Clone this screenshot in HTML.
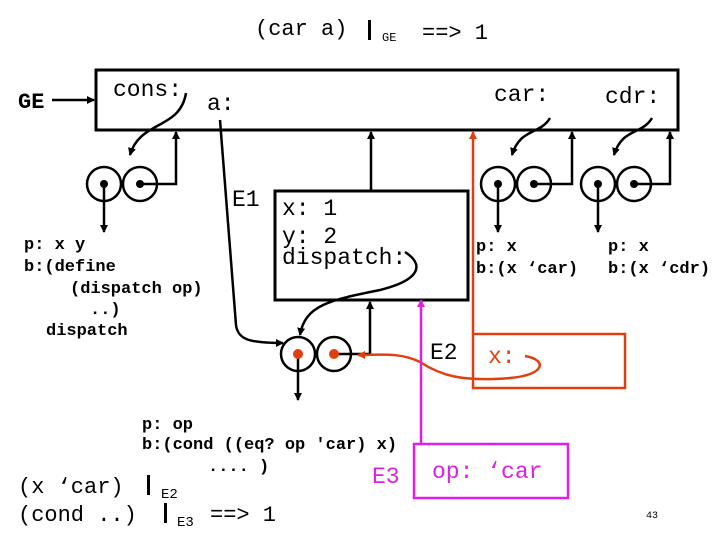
<!DOCTYPE html>
<html><head><style>body{margin:0;background:#fff}svg{display:block}text{font-family:"Liberation Mono",monospace}</style></head><body>
<svg width="720" height="540" viewBox="0 0 720 540" xmlns="http://www.w3.org/2000/svg">
<defs>
<marker id="a" markerWidth="8" markerHeight="8" refX="7" refY="4" orient="auto" markerUnits="userSpaceOnUse"><path d="M0,0 L8,4 L0,8z" fill="#000"/></marker>
<marker id="r" markerWidth="8" markerHeight="8" refX="7" refY="4" orient="auto" markerUnits="userSpaceOnUse"><path d="M0,0 L8,4 L0,8z" fill="#e04010"/></marker>
<marker id="m" markerWidth="8" markerHeight="8" refX="7" refY="4" orient="auto" markerUnits="userSpaceOnUse"><path d="M0,0 L8,4 L0,8z" fill="#e020e0"/></marker>
</defs>
<g fill="#000" font-size="23">
<text x="255" y="35" font-size="22">(car a)</text>
<text x="422" y="39" font-size="22">==&gt; 1</text>
<text x="382" y="41" font-size="12">GE</text>
<text x="18" y="108" font-weight="bold" font-size="22">GE</text>
<text x="113" y="96">cons:</text>
<text x="207" y="110">a:</text>
<text x="494" y="101">car:</text>
<text x="605" y="103">cdr:</text>
<text x="232" y="206">E1</text>
<text x="282" y="215">x: 1</text>
<text x="282" y="243">y: 2</text>
<text x="282" y="264">dispatch:</text>
<text x="430" y="359">E2</text>
</g>
<rect x="368" y="20" width="3" height="20" fill="#000"/>
<g fill="none" stroke="#000" stroke-width="3">
<rect x="96" y="70" width="582" height="60"/>
<rect x="275" y="191" width="193" height="109"/>
</g>
<g fill="none" stroke="#000" stroke-width="2.5">
<line x1="52" y1="100" x2="94" y2="100" marker-end="url(#a)"/>
<circle cx="104" cy="184" r="17"/><circle cx="140" cy="184" r="17"/>
<circle cx="498" cy="184" r="17"/><circle cx="534" cy="184" r="17"/>
<circle cx="598" cy="184" r="17"/><circle cx="634" cy="184" r="17"/>
<circle cx="298" cy="354" r="17"/><circle cx="334" cy="354" r="17"/>
<line x1="104" y1="184" x2="104" y2="232" marker-end="url(#a)"/>
<polyline points="140,184 176,184 176,132" marker-end="url(#a)"/>
<line x1="498" y1="184" x2="498" y2="232" marker-end="url(#a)"/>
<polyline points="534,184 572,184 572,132" marker-end="url(#a)"/>
<line x1="598" y1="184" x2="598" y2="232" marker-end="url(#a)"/>
<polyline points="634,184 670,184 670,132" marker-end="url(#a)"/>
<line x1="298" y1="354" x2="298" y2="400" marker-end="url(#a)"/>
<polyline points="334,354 370,354 370,302" marker-end="url(#a)"/>
<line x1="371" y1="190" x2="371" y2="132" marker-end="url(#a)"/>
<path d="M186,93 C180,130 140,120 130,155" marker-end="url(#a)"/>
<path d="M550,118 C540,135 520,128 512,155" marker-end="url(#a)"/>
<path d="M652,118 C642,135 622,128 614,155" marker-end="url(#a)"/>
<path d="M220,120 L236,325 C238,340 250,343 283,343" marker-end="url(#a)"/>
<path d="M405,252 C425,265 420,280 380,290 C330,300 305,305 300,335" marker-end="url(#a)"/>
</g>
<g fill="#000"><circle cx="104" cy="184" r="4"/><circle cx="140" cy="184" r="4"/><circle cx="498" cy="184" r="4"/><circle cx="534" cy="184" r="4"/><circle cx="598" cy="184" r="4"/><circle cx="634" cy="184" r="4"/></g>
<g fill="#e04010"><circle cx="298" cy="354" r="5"/><circle cx="334" cy="354" r="5"/></g>
<g fill="none" stroke="#e04010" stroke-width="2.5">
<line x1="473" y1="334" x2="473" y2="132" marker-end="url(#r)"/>
<rect x="473" y="334" width="152" height="54"/>
<path d="M525,356 C548,360 545,375 510,378 C460,382 440,375 420,362 C400,352 380,355 358,355" marker-end="url(#r)"/>
</g>
<text x="488" y="363" font-size="23" fill="#e04010">x:</text>
<g fill="none" stroke="#e020e0" stroke-width="2.5">
<line x1="421" y1="444" x2="421" y2="300" marker-end="url(#m)"/>
<rect x="414" y="444" width="154" height="54"/>
</g>
<text x="432" y="478" font-size="23" fill="#e020e0">op: ‘car</text>
<text x="372" y="483" font-size="23" fill="#e020e0">E3</text>
<g font-size="17" font-weight="bold" fill="#000">
<text x="24" y="249">p: x y</text>
<text x="24" y="271">b:(define</text>
<text x="70" y="293">(dispatch op)</text>
<text x="90" y="314">..)</text>
<text x="46" y="335">dispatch</text>
<text x="476" y="251">p: x</text>
<text x="476" y="273">b:(x ‘car)</text>
<text x="608" y="251">p: x</text>
<text x="608" y="273">b:(x ‘cdr)</text>
<text x="142" y="429">p: op</text>
<text x="142" y="449">b:(cond ((eq? op 'car) x)</text>
<text x="208" y="471">.... )</text>
</g>
<g font-size="22" fill="#000">
<text x="18" y="493">(x ‘car)</text>
<text x="18" y="521">(cond ..)</text>
<text x="210" y="521">==&gt; 1</text>
<text x="161" y="498" font-size="14">E2</text>
<text x="177" y="526" font-size="14">E3</text>
<text x="646" y="518" font-size="10" font-family="Liberation Sans,sans-serif">43</text>
</g>
<rect x="147" y="475" width="3" height="20" fill="#000"/>
<rect x="164" y="503" width="3" height="20" fill="#000"/>
</svg>
</body></html>
